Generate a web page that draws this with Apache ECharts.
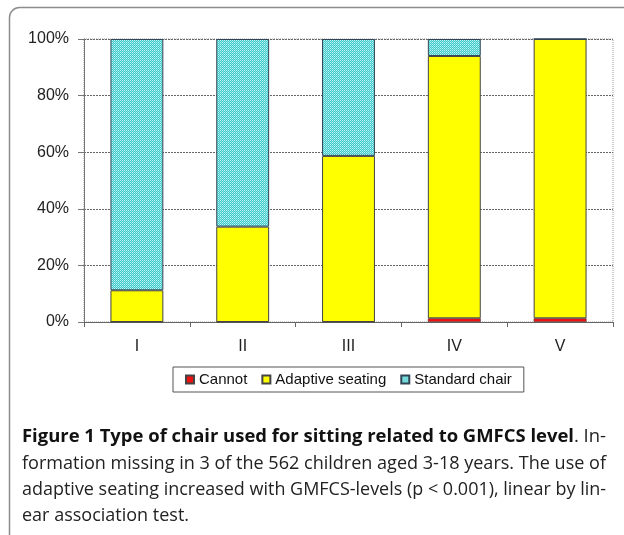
<!DOCTYPE html>
<html>
<head>
<meta charset="utf-8">
<script src="https://cdn.jsdelivr.net/npm/echarts@6/dist/echarts.min.js"></script>
<style>
  html, body { margin: 0; padding: 0; background: #fff; }
  #chart { width: 624px; height: 535px; }
</style>
</head>
<body>
<div id="chart"></div>
<script>
// GMFCS levels and share (%) of children per chair type
const levels = ['I', 'II', 'III', 'IV', 'V'];
const cannot = [0, 0, 0, 1.3, 1.3];
const adaptiveSeating = [11.2, 33.7, 58.7, 92.7, 98.7];
const standardChair = [88.8, 66.3, 41.3, 6.0, 0];
const yTicks = [0, 20, 40, 60, 80, 100];

const captionLines = [
  { bold: 'Figure 1 Type of chair used for sitting related to GMFCS level', normal: '. In-' },
  { bold: '', normal: 'formation missing in 3 of the 562 children aged 3-18 years. The use of' },
  { bold: '', normal: 'adaptive seating increased with GMFCS-levels (p < 0.001), linear by lin-' },
  { bold: '', normal: 'ear association test.' }
];

// dithered teal fill for the standard chair segments
function makeDither() {
  const c = document.createElement('canvas');
  c.width = 2; c.height = 2;
  const g = c.getContext('2d');
  g.fillStyle = '#40cccc'; g.fillRect(0, 0, 2, 2);
  g.fillStyle = '#c0f4f4'; g.fillRect(0, 0, 1, 1);
  g.fillStyle = '#90e2e2'; g.fillRect(1, 1, 1, 1);
  return c;
}

const capFont = '"Open Sans", "Noto Sans", sans-serif';
const capSize = 18.5;
const measure = document.createElement('canvas').getContext('2d');
function textWidth(str, weight) {
  measure.font = weight + ' ' + capSize + 'px ' + capFont;
  return measure.measureText(str).width;
}

// justified caption: each full line is squeezed to the same column width
const capLeft = 22, capRight = 606;
const capY = [437, 464, 490, 516];
let scales = captionLines.map(l => (capRight - capLeft) / (textWidth(l.bold, 'bold') + textWidth(l.normal, 'normal')));
scales[3] = (scales[1] + scales[2]) / 2;

const captionGraphics = captionLines.map((l, i) => ({
  type: 'text',
  x: capLeft, y: capY[i],
  scaleX: scales[i],
  originX: 0, originY: 0,
  style: {
    text: (l.bold ? '{b|' + l.bold + '}' : '') + '{n|' + l.normal + '}',
    verticalAlign: 'middle',
    rich: {
      b: { fontFamily: capFont, fontSize: capSize, fontWeight: 'bold', fill: '#111' },
      n: { fontFamily: capFont, fontSize: capSize, fill: '#222' }
    }
  }
}));

const chart = echarts.init(document.getElementById('chart'), null, { renderer: 'canvas' });
const axisFont = '"Liberation Sans", Arial, sans-serif';

chart.setOption({
  animation: false,
  backgroundColor: '#fff',
  graphic: [
    {
      type: 'rect',
      shape: { x: 9.5, y: 7.5, width: 700, height: 540, r: 10 },
      style: { fill: 'none', stroke: '#8c8c8c', lineWidth: 1.5 },
      z: -1
    }
  ].concat(captionGraphics),
  grid: {
    left: 84, right: 11, top: 39, bottom: 213,
    show: true, borderColor: '#999', borderWidth: 1, borderType: 'dotted'
  },
  legend: {
    left: 173, top: 367,
    padding: [5, 12, 5, 12],
    itemGap: 14,
    itemWidth: 8, itemHeight: 8,
    icon: 'rect',
    borderColor: '#555', borderWidth: 1,
    textStyle: { fontFamily: axisFont, fontSize: 15, color: '#111' },
    data: ['Cannot', 'Adaptive seating', 'Standard chair']
  },
  xAxis: {
    type: 'category',
    data: levels,
    axisLine: { lineStyle: { color: '#666', width: 1 } },
    axisTick: { show: true, alignWithLabel: false, length: 5, lineStyle: { color: '#666' } },
    axisLabel: { fontFamily: axisFont, fontSize: 16, color: '#222', margin: 17 }
  },
  yAxis: {
    type: 'value',
    min: yTicks[0], max: yTicks[yTicks.length - 1], interval: yTicks[1] - yTicks[0],
    axisLine: { show: true, lineStyle: { color: '#777', width: 1 } },
    axisTick: { show: true, length: 6, lineStyle: { color: '#777' } },
    axisLabel: { fontFamily: axisFont, fontSize: 16, color: '#222', margin: 15, formatter: '{value}%' },
    splitLine: { lineStyle: { color: '#666', type: [2, 1], width: 1 } }
  },
  series: [
    {
      name: 'Cannot', type: 'bar', stack: 'chair', barWidth: '50%',
      data: cannot,
      itemStyle: { color: '#ee1111', borderColor: '#444', borderWidth: 0.6 }
    },
    {
      name: 'Adaptive seating', type: 'bar', stack: 'chair', barWidth: '50%',
      data: adaptiveSeating,
      itemStyle: { color: '#ffff00', borderColor: '#444', borderWidth: 1 }
    },
    {
      name: 'Standard chair', type: 'bar', stack: 'chair', barWidth: '50%',
      data: standardChair,
      itemStyle: { color: { image: makeDither(), repeat: 'repeat' }, borderColor: '#345', borderWidth: 1 }
    }
  ]
});
</script>
</body>
</html>
